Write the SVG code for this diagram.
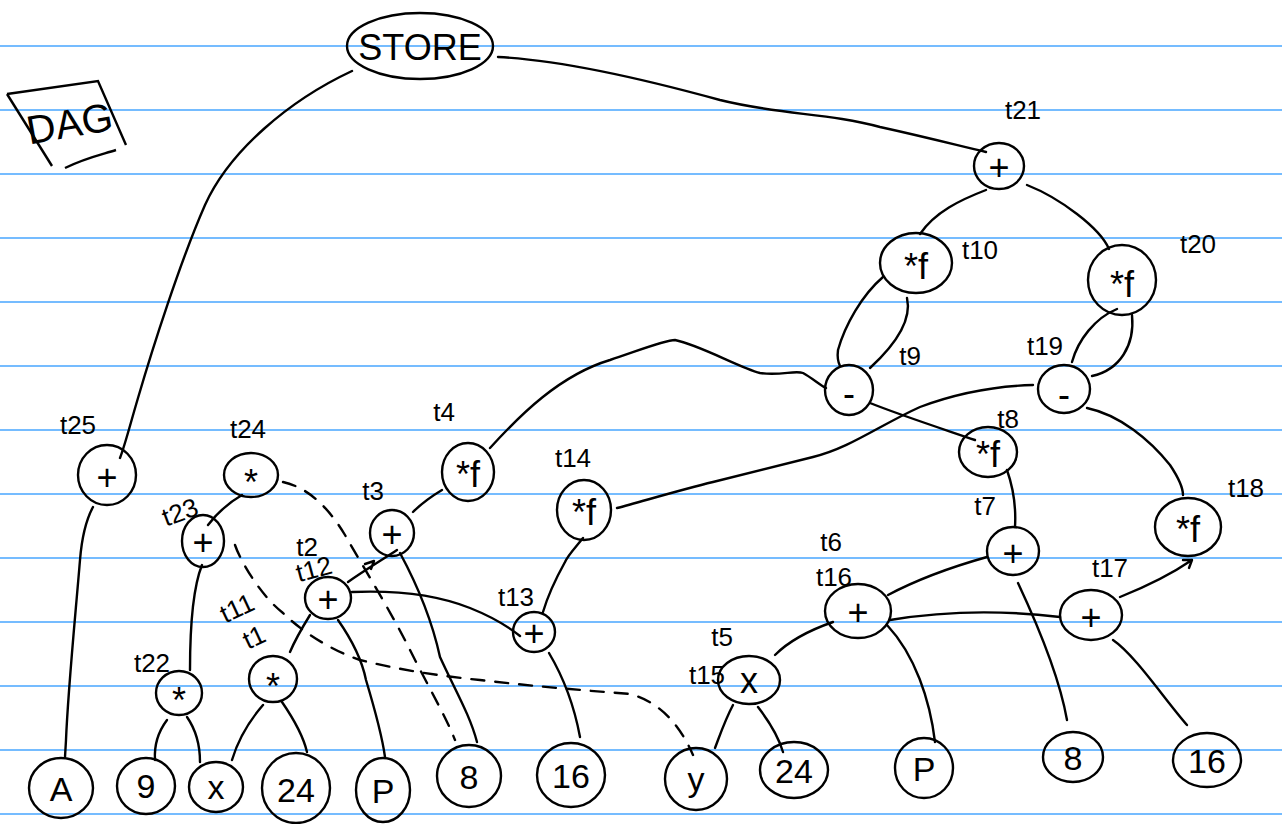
<svg xmlns="http://www.w3.org/2000/svg" width="1282" height="824" viewBox="0 0 1282 824">
  <style>
    .rule { stroke: #47a6ff; stroke-width: 1.5; }
    .edge { fill: none; stroke: #000; stroke-width: 2.4; stroke-linecap: round; stroke-linejoin: round; }
    .dash { stroke-dasharray: 13 11; }
    .node ellipse, .box { fill: none; stroke: #000; stroke-width: 2.4; }
    .sym { font-family: "Liberation Sans", "DejaVu Sans", sans-serif; font-size: 36px; text-anchor: middle; dominant-baseline: central; fill: #000; }
    .leaf { font-family: "Liberation Sans", "DejaVu Sans", sans-serif; font-size: 34px; text-anchor: middle; dominant-baseline: central; fill: #000; }
    .lbl { font-family: "Liberation Sans", "DejaVu Sans", sans-serif; font-size: 26px; text-anchor: middle; dominant-baseline: central; fill: #000; }
  </style>

  <rect width="1282" height="824" fill="#fff"/>

  <!-- ruled paper -->
  <g id="rules">
    <line class="rule" x1="0" y1="46" x2="1282" y2="46"/>
    <line class="rule" x1="0" y1="110" x2="1282" y2="110"/>
    <line class="rule" x1="0" y1="174" x2="1282" y2="174"/>
    <line class="rule" x1="0" y1="238" x2="1282" y2="238"/>
    <line class="rule" x1="0" y1="302" x2="1282" y2="302"/>
    <line class="rule" x1="0" y1="366" x2="1282" y2="366"/>
    <line class="rule" x1="0" y1="430" x2="1282" y2="430"/>
    <line class="rule" x1="0" y1="494" x2="1282" y2="494"/>
    <line class="rule" x1="0" y1="558" x2="1282" y2="558"/>
    <line class="rule" x1="0" y1="622" x2="1282" y2="622"/>
    <line class="rule" x1="0" y1="686" x2="1282" y2="686"/>
    <line class="rule" x1="0" y1="750" x2="1282" y2="750"/>
    <line class="rule" x1="0" y1="814" x2="1282" y2="814"/>
  </g>

  <!-- title box -->
  <g id="title">
    <path class="box" d="M7,94 L98,81 L126,145"/>
    <path class="box" d="M7,94 L52,166"/>
    <path class="box" d="M65,168 C85,158 100,155 116,150"/>
    <text x="72" y="137" font-family="Liberation Sans, sans-serif" font-size="40" text-anchor="middle" transform="rotate(-10 72 137)">DAG</text>
  </g>

  <!-- connectors -->
  <g id="edges">
    <path class="edge" d="M352,71 C290,100 230,150 205,205 C180,262 152,350 138,398 C130,425 125,445 120,458"/>
    <path class="edge" d="M498,57 C560,60 640,78 720,100 C780,115 830,113 880,127 C930,138 960,146 986,152"/>
    <path class="edge" d="M986,190 C960,200 935,212 920,234"/>
    <path class="edge" d="M1027,185 C1060,198 1100,228 1109,249"/>
    <path class="edge" d="M883,277 C862,295 845,325 838,350 C837,358 838,362 840,366"/>
    <path class="edge" d="M907,298 C912,320 895,345 870,368"/>
    <path class="edge" d="M1117,309 C1095,318 1078,340 1072,362"/>
    <path class="edge" d="M1132,315 C1135,345 1120,370 1092,376"/>
    <path class="edge" d="M490,448 C520,415 560,375 610,360 C640,350 665,340 675,340 C700,345 740,368 760,373 C780,376 795,370 803,373 C812,378 820,385 826,388"/>
    <path class="edge" d="M870,403 C900,415 940,428 975,440"/>
    <path class="edge" d="M1033,385 C1000,386 960,392 920,407 C880,425 850,448 813,457 C770,468 740,475 713,482 C680,490 640,502 617,508"/>
    <path class="edge" d="M1087,408 C1120,415 1150,440 1170,465 C1180,480 1183,490 1183,495"/>
    <path class="edge" d="M1007,470 C1014,490 1016,510 1015,527"/>
    <path class="edge" d="M987,557 C955,566 920,578 888,595"/>
    <path class="edge" d="M890,620 C950,610 1010,611 1060,617"/>
    <path class="edge" d="M1120,597 C1150,585 1170,575 1192,560 M1183,560 L1192,560 L1189,568"/>
    <path class="edge" d="M1018,583 C1040,630 1060,680 1067,720"/>
    <path class="edge" d="M1113,640 C1135,655 1165,700 1187,725"/>
    <path class="edge" d="M887,625 C915,655 930,700 935,742"/>
    <path class="edge" d="M775,655 C790,640 810,630 833,622"/>
    <path class="edge" d="M733,705 C725,720 720,735 715,748"/>
    <path class="edge" d="M758,707 C768,720 778,735 783,752"/>
    <path class="edge" d="M583,538 C575,548 568,555 565,562 C555,580 548,595 543,612"/>
    <path class="edge" d="M549,653 C565,680 575,710 580,737"/>
    <path class="edge" d="M352,592 C400,590 440,596 470,608 C490,616 505,624 520,636"/>
    <path class="edge" d="M348,582 C365,570 385,558 397,550 M365,564 L374,561 L371,569"/>
    <path class="edge" d="M413,512 C422,503 432,496 442,490"/>
    <path class="edge" d="M400,553 C420,590 433,625 440,657 C455,690 470,715 477,742"/>
    <path class="edge" d="M338,620 C352,640 362,660 366,680 C375,710 382,735 385,757"/>
    <path class="edge" d="M310,615 C302,628 295,640 290,652"/>
    <path class="edge" d="M263,705 C250,720 238,740 232,760"/>
    <path class="edge" d="M282,702 C293,718 303,735 307,752"/>
    <path class="edge" d="M167,720 C158,732 154,745 155,760"/>
    <path class="edge" d="M187,717 C196,730 200,745 200,762"/>
    <path class="edge" d="M202,565 C192,590 190,630 190,670"/>
    <path class="edge" d="M242,495 C228,503 218,512 208,525"/>
    <path class="edge" d="M93,507 C86,520 82,535 80,560 C75,620 68,690 66,740 L65,757"/>
    <path class="edge dash" d="M283,482 C310,488 330,510 345,535 C365,570 390,610 410,650 C430,690 445,715 455,740"/>
    <path class="edge dash" d="M235,545 C240,560 260,595 283,613 C300,630 330,650 360,660 C400,670 440,676 480,680 C530,686 580,690 630,694 C660,702 680,725 693,755"/>
  </g>

  <!-- nodes -->
  <g id="store" class="node"><ellipse cx="420" cy="46" rx="73" ry="33"/><text class="sym" x="420" y="47" font-size="30">STORE</text></g>

  <g id="t25" class="node"><ellipse cx="107" cy="475" rx="29" ry="30"/><text class="sym" x="107" y="477">+</text><text class="lbl" x="78" y="425">t25</text></g>
  <g id="t24" class="node"><ellipse cx="251" cy="475" rx="27" ry="22"/><text class="sym" x="251" y="482">*</text><text class="lbl" x="248" y="429">t24</text></g>
  <g id="t23" class="node"><ellipse cx="203" cy="541" rx="21" ry="26"/><text class="sym" x="203" y="542">+</text><text class="lbl" x="180" y="512" transform="rotate(-20 180 512)">t23</text></g>
  <g id="t22" class="node"><ellipse cx="179" cy="693" rx="23" ry="22"/><text class="sym" x="179" y="700">*</text><text class="lbl" x="152" y="663">t22</text></g>
  <g id="t1" class="node"><ellipse cx="273" cy="679" rx="24" ry="23"/><text class="sym" x="273" y="686">*</text><text class="lbl" x="237" y="608" font-size="24" transform="rotate(-25 237 608)">t11</text><text class="lbl" x="254" y="637" font-size="24" transform="rotate(-25 254 637)">t1</text></g>
  <g id="t2" class="node"><ellipse cx="328" cy="598" rx="23" ry="21"/><text class="sym" x="328" y="599">+</text><text class="lbl" x="307" y="547">t2</text><text class="lbl" x="314" y="569" font-size="22" transform="rotate(-15 314 569)">t12</text></g>
  <g id="t3" class="node"><ellipse cx="392" cy="533" rx="22" ry="23"/><text class="sym" x="392" y="534">+</text><text class="lbl" x="373" y="491">t3</text></g>
  <g id="t4" class="node"><ellipse cx="468" cy="472" rx="26" ry="29"/><text class="sym" x="468" y="474" font-size="32">*f</text><text class="lbl" x="444" y="412">t4</text></g>
  <g id="t14" class="node"><ellipse cx="584" cy="510" rx="27" ry="30"/><text class="sym" x="584" y="512" font-size="32">*f</text><text class="lbl" x="573" y="458">t14</text></g>
  <g id="t13" class="node"><ellipse cx="534" cy="632" rx="21" ry="20"/><text class="sym" x="534" y="633">+</text><text class="lbl" x="516" y="597">t13</text></g>
  <g id="t5" class="node"><ellipse cx="749" cy="680" rx="31" ry="24"/><text class="sym" x="749" y="680">x</text><text class="lbl" x="722" y="637">t5</text><text class="lbl" x="707" y="675" font-size="23">t15</text></g>
  <g id="t6" class="node"><ellipse cx="858" cy="611" rx="33" ry="27"/><text class="sym" x="858" y="612">+</text><text class="lbl" x="831" y="542">t6</text><text class="lbl" x="834" y="577" font-size="28">t16</text></g>
  <g id="t7" class="node"><ellipse cx="1013" cy="551" rx="26" ry="24"/><text class="sym" x="1013" y="553">+</text><text class="lbl" x="985" y="506">t7</text></g>
  <g id="t8" class="node"><ellipse cx="988" cy="452" rx="29" ry="25"/><text class="sym" x="988" y="454" font-size="32">*f</text><text class="lbl" x="1008" y="419">t8</text></g>
  <g id="t17" class="node"><ellipse cx="1091" cy="615" rx="31" ry="25"/><text class="sym" x="1091" y="617">+</text><text class="lbl" x="1110" y="568">t17</text></g>
  <g id="t18" class="node"><ellipse cx="1188" cy="527" rx="33" ry="29"/><text class="sym" x="1188" y="529">*f</text><text class="lbl" x="1246" y="488" font-size="28">t18</text></g>
  <g id="t9" class="node"><ellipse cx="849" cy="390" rx="24" ry="25"/><text class="sym" x="849" y="393">-</text><text class="lbl" x="910" y="356">t9</text></g>
  <g id="t19" class="node"><ellipse cx="1064" cy="389" rx="26" ry="24"/><text class="sym" x="1064" y="394">-</text><text class="lbl" x="1045" y="346">t19</text></g>
  <g id="t10" class="node"><ellipse cx="916" cy="263" rx="36" ry="30"/><text class="sym" x="916" y="266">*f</text><text class="lbl" x="980" y="250">t10</text></g>
  <g id="t20" class="node"><ellipse cx="1122" cy="280" rx="34" ry="35"/><text class="sym" x="1122" y="284">*f</text><text class="lbl" x="1198" y="244" font-size="28">t20</text></g>
  <g id="t21" class="node"><ellipse cx="999" cy="166" rx="25" ry="23"/><text class="sym" x="999" y="167">+</text><text class="lbl" x="1023" y="110">t21</text></g>

  <!-- leaves -->
  <g id="leafA" class="node"><ellipse cx="61" cy="788" rx="32" ry="30"/><text class="leaf" x="61" y="789">A</text></g>
  <g id="leaf9" class="node"><ellipse cx="146" cy="786" rx="29" ry="28"/><text class="leaf" x="146" y="786">9</text></g>
  <g id="leafX" class="node"><ellipse cx="216" cy="787" rx="27" ry="25"/><text class="leaf" x="216" y="787">x</text></g>
  <g id="leaf24a" class="node"><ellipse cx="296" cy="788" rx="34" ry="35"/><text class="leaf" x="296" y="790">24</text></g>
  <g id="leafPa" class="node"><ellipse cx="383" cy="790" rx="27" ry="32"/><text class="leaf" x="383" y="791">P</text></g>
  <g id="leaf8a" class="node"><ellipse cx="469" cy="776" rx="32" ry="31"/><text class="leaf" x="469" y="777">8</text></g>
  <g id="leaf16a" class="node"><ellipse cx="571" cy="775" rx="34" ry="32"/><text class="leaf" x="571" y="776">16</text></g>
  <g id="leafY" class="node"><ellipse cx="696" cy="779" rx="31" ry="31"/><text class="leaf" x="696" y="779">y</text></g>
  <g id="leaf24b" class="node"><ellipse cx="794" cy="770" rx="34" ry="28"/><text class="leaf" x="794" y="771">24</text></g>
  <g id="leafPb" class="node"><ellipse cx="924" cy="768" rx="29" ry="30"/><text class="leaf" x="924" y="769">P</text></g>
  <g id="leaf8b" class="node"><ellipse cx="1073" cy="757" rx="30" ry="25"/><text class="leaf" x="1073" y="758">8</text></g>
  <g id="leaf16b" class="node"><ellipse cx="1207" cy="760" rx="34" ry="27"/><text class="leaf" x="1207" y="761">16</text></g>
</svg>
